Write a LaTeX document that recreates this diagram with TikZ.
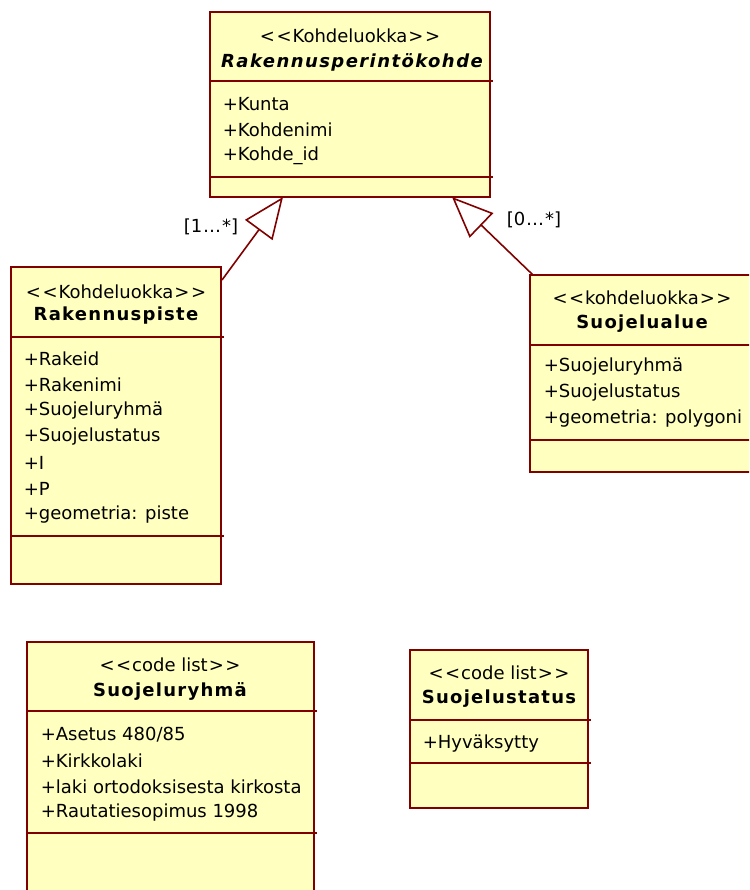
\documentclass[tikz,border=0pt]{standalone}
\usepackage{fontspec}
\setmainfont{DejaVu Sans}
\usetikzlibrary{arrows.meta,calc}
\definecolor{umlred}{RGB}{128,0,0}
\definecolor{umlfill}{RGB}{255,255,192}
\newcommand{\stereotxt}[1]{<\kern1.5pt<\kern1pt#1\kern1pt>\kern1.5pt>}

\begin{document}
\begin{tikzpicture}[x=1pt,y=-1pt,line width=1.6pt]
    \tikzstyle{classbox}=[draw=umlred,fill=umlfill,inner sep=0,outer sep=0,anchor=north west]
    \tikzstyle{sepline}=[draw=umlred]
    \tikzstyle{stereo}=[inner sep=0,font=\fontsize{18}{20}\selectfont]
    \tikzstyle{clname}=[inner sep=0,font=\fontsize{18}{20}\selectfont\bfseries\addfontfeature{LetterSpace=7}]
    \tikzstyle{attr}=[inner sep=0,anchor=west,font=\fontsize{18}{20}\selectfont]
    \tikzstyle{inherit}=[draw=umlred,-{Triangle[open,length=41pt,width=34pt]}]

    \clip (0,0) rectangle (749,890);

    % abstract parent
    \node[classbox,minimum width=280,minimum height=185] (kohde) at (210,12) {};
    \draw[sepline] ($(kohde.north west)+(0,69)$) -- ++(283,0);
    \draw[sepline] ($(kohde.north west)+(0,165)$) -- ++(283,0);
    \node[stereo] (kohde-st) at (350,36) {\stereotxt{Kohdeluokka}};
    \node[clname] (kohde-nm) at (352,62) {\itshape\addfontfeature{LetterSpace=8}Rakennusperintökohde};
    \foreach \y/\t in {104/Kunta,130/Kohdenimi,156/Kohde\_id}
        \node[attr] at (222,\y) {+\t};

    % point class
    \node[classbox,minimum width=210,minimum height=317] (rakpiste) at (11,267) {};
    \draw[sepline] ($(rakpiste.north west)+(0,70)$) -- ++(213,0);
    \draw[sepline] ($(rakpiste.north west)+(0,269)$) -- ++(213,0);
    \node[stereo] (rakpiste-st) at (116,292) {\stereotxt{Kohdeluokka}};
    \node[clname] (rakpiste-nm) at (116,316) {Rakennuspiste};
    \foreach \y/\t in {359/Rakeid,385/Rakenimi,411/Suojeluryhmä,437/Suojelustatus,463/I,489/P,515/geometria: piste}
        \node[attr] at (23,\y) {+\t};

    % area class
    \node[classbox,minimum width=225,minimum height=197] (suojalue) at (530,275) {};
    \draw[sepline] ($(suojalue.north west)+(0,70)$) -- ++(228,0);
    \draw[sepline] ($(suojalue.north west)+(0,165)$) -- ++(228,0);
    \node[stereo] (suojalue-st) at (642,298) {\stereotxt{kohdeluokka}};
    \node[clname] (suojalue-nm) at (642,324) {Suojelualue};
    \foreach \y/\t in {367/Suojeluryhmä,393/Suojelustatus,419/geometria: polygoni}
        \node[attr] at (543,\y) {+\t};

    % code lists
    \node[classbox,minimum width=287,minimum height=260] (ryhma) at (27,642) {};
    \draw[sepline] ($(ryhma.north west)+(0,69)$) -- ++(290,0);
    \draw[sepline] ($(ryhma.north west)+(0,191)$) -- ++(290,0);
    \node[stereo] (ryhma-st) at (170,665) {\stereotxt{code list}};
    \node[clname] (ryhma-nm) at (170,691) {Suojeluryhmä};
    \foreach \y/\t in {735/{Asetus 480/85},761/Kirkkolaki,787/laki ortodoksisesta kirkosta,813/Rautatiesopimus 1998}
        \node[attr] at (40,\y) {+\t};

    \node[classbox,minimum width=178,minimum height=158] (status) at (410,650) {};
    \draw[sepline] ($(status.north west)+(0,70)$) -- ++(181,0);
    \draw[sepline] ($(status.north west)+(0,113)$) -- ++(181,0);
    \node[stereo] (status-st) at (499,673) {\stereotxt{code list}};
    \node[clname] (status-nm) at (499,699) {Suojelustatus};
    \node[attr] at (422,744) {+Hyväksytty};

    % generalisations
    \coordinate (gen1-from) at ($(rakpiste.north east)+(1,13)$);
    \coordinate (gen1-to) at ($(kohde.south west)+(73,0)$);
    \coordinate (gen2-from) at ($(suojalue.north west)+(3,0)$);
    \coordinate (gen2-to) at ($(kohde.south west)+(242,0)$);
    \draw[inherit] (gen1-from) -- (gen1-to);
    \draw[inherit] (gen2-from) -- (gen2-to);
    \node[stereo] (gen1-lbl) at (211,227) {[1\kern1pt…\kern1pt*]};
    \node[stereo] (gen2-lbl) at (534,220) {[0\kern1pt…\kern1pt*]};
\end{tikzpicture}
\end{document}
